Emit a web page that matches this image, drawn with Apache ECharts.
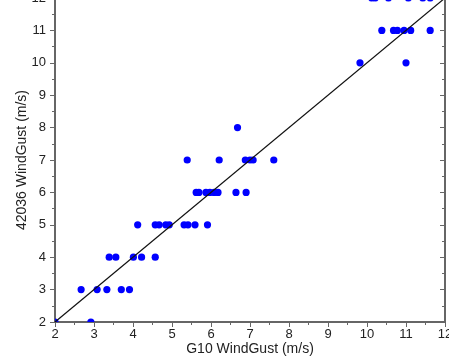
<!DOCTYPE html>
<html>
<head>
<meta charset="utf-8">
<script src="https://cdn.jsdelivr.net/npm/echarts@6/dist/echarts.min.js"></script>
<style>html,body{margin:0;padding:0;background:#fff;}#c{width:449px;height:361px;}</style>
</head>
<body>
<div id="c"></div>
<script>
// G10 WindGust (x) vs 42036 WindGust (y), m/s
var g10 = [
  2.0, 2.92,
  2.67, 3.08, 3.33, 3.70, 3.91,
  3.39, 3.56, 4.01, 4.22, 4.57,
  4.12, 4.57, 4.67, 4.84, 4.93, 5.31, 5.41, 5.59, 5.91,
  5.62, 5.69, 5.87, 5.97, 6.08, 6.18, 6.64, 6.90,
  5.39, 6.21, 6.88, 7.00, 7.08, 7.61,
  6.68,
  9.82, 11.00,
  10.38, 10.68, 10.78, 10.95, 11.12, 11.62,
  10.12, 10.21, 10.55, 11.06, 11.43, 11.62
];
var b42036 = [
  2, 2,
  3, 3, 3, 3, 3,
  4, 4, 4, 4, 4,
  5, 5, 5, 5, 5, 5, 5, 5, 5,
  6, 6, 6, 6, 6, 6, 6, 6,
  7, 7, 7, 7, 7, 7,
  8,
  10, 10,
  11, 11, 11, 11, 11, 11,
  12, 12, 12, 12, 12, 12
];
var oneToOneX = [2, 12];
var oneToOneY = [2, 12];
var axisMin = 2, axisMax = 12, axisStep = 1;
var xName = 'G10 WindGust (m/s)';
var yName = '42036 WindGust (m/s)';

var pts = g10.map(function (v, i) { return [v, b42036[i]]; });
var linePts = oneToOneX.map(function (v, i) { return [v, oneToOneY[i]]; });

var font = '"Liberation Sans", Arial, sans-serif';
var axisColor = '#666';
var baseAxis = {
  type: 'value', min: axisMin, max: axisMax, interval: axisStep,
  splitLine: { show: false },
  axisLine: { show: true, lineStyle: { color: axisColor, width: 2 } },
  axisTick: { show: true, length: 5, lineStyle: { color: axisColor, width: 1 } },
  minorTick: { show: true, splitNumber: 2, length: 3, lineStyle: { color: axisColor, width: 1 } },
  axisLabel: { color: '#222', fontSize: 13, fontFamily: font }
};

var chart = echarts.init(document.getElementById('c'), null, { renderer: 'canvas' });
chart.setOption({
  animation: false,
  grid: { left: 55, right: 4, top: -2, bottom: 39, containLabel: false, outerBoundsMode: 'none' },
  xAxis: [
    Object.assign({}, baseAxis, {
      position: 'bottom',
      name: xName, nameLocation: 'middle', nameGap: 20, nameMoveOverlap: false,
      nameTextStyle: { color: '#222', fontSize: 14, fontFamily: font },
      axisLabel: Object.assign({}, baseAxis.axisLabel, { margin: 6 })
    })
  ],
  yAxis: [
    Object.assign({}, baseAxis, {
      position: 'left',
      name: yName, nameLocation: 'middle', nameGap: 26, nameRotate: 90, nameMoveOverlap: false,
      nameTextStyle: { color: '#222', fontSize: 14, fontFamily: font },
      axisLabel: Object.assign({}, baseAxis.axisLabel, { margin: 9 })
    }),
    Object.assign({}, baseAxis, {
      position: 'right',
      axisLabel: { show: false },
      axisTick: { show: true, inside: true, length: 5, lineStyle: { color: axisColor, width: 1 } },
      minorTick: { show: true, splitNumber: 2, length: 3, lineStyle: { color: axisColor, width: 1 } }
    })
  ],
  series: [
    {
      type: 'line', data: linePts, symbol: 'none', silent: true,
      lineStyle: { color: '#111', width: 1.2 }, z: 3
    },
    {
      type: 'custom', data: pts, clip: true, z: 2,
      renderItem: function (params, api) {
        var p = api.coord([api.value(0), api.value(1)]);
        return { type: 'circle', shape: { cx: p[0], cy: p[1], r: 3.6 }, style: { fill: '#0000ff' } };
      }
    }
  ]
});
</script>
</body>
</html>
